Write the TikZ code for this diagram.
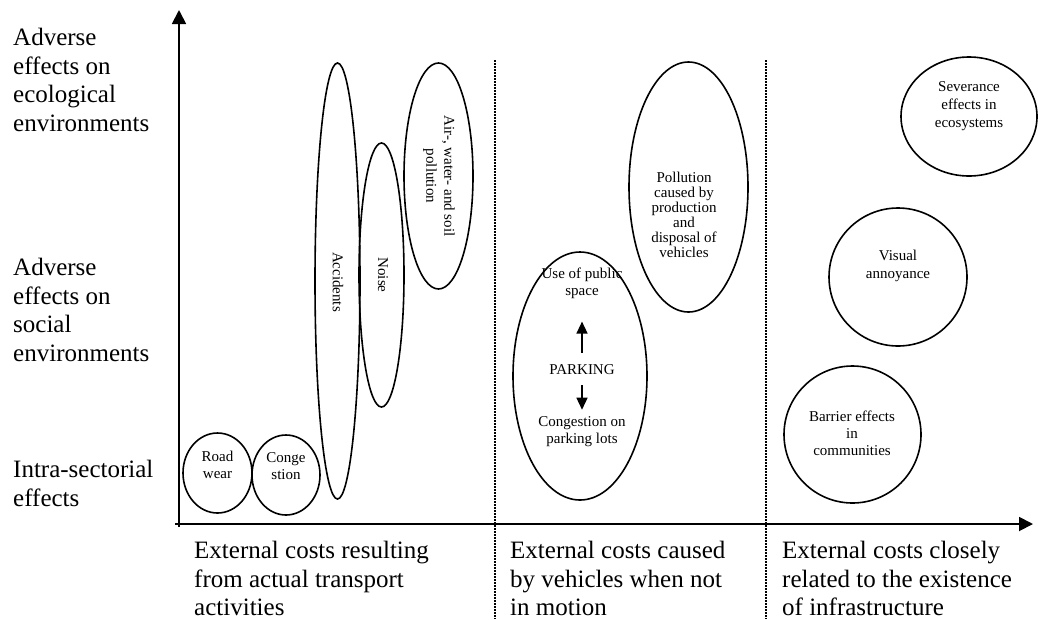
\documentclass[tikz,border=0pt]{standalone}
\usepackage{fontspec}
\setmainfont{Liberation Serif}
\usetikzlibrary{shapes.geometric, arrows.meta}

\begin{document}
\begin{tikzpicture}[x=1pt, y=-1pt,
  axis/.style={line width=1.8pt, -{Triangle[length=14pt,width=14pt]}},
  sepline/.style={line width=1.5pt, dash pattern=on 1.5pt off 1.5pt},
  blob/.style={draw, ellipse, line width=1.6pt, inner sep=0pt},
  small/.style={font=\fontsize{15}{17}\selectfont, align=center, inner sep=0pt},
  big/.style={font=\fontsize{25}{28.5}\selectfont, align=left, inner sep=0pt, anchor=north west},
  ptr/.style={line width=1.4pt, -{Triangle[length=12pt,width=11pt]}}]

\useasboundingbox (0,0) rectangle (1038,619);

% axes
\coordinate (ystart) at (179,527);
\coordinate (ytop)   at (179,10);
\coordinate (xstart) at (175,524);
\coordinate (xend)   at (1033,524);
\draw[axis] (ystart) -- (ytop);
\draw[axis] (xstart) -- (xend);

% column separators
\coordinate (s1t) at (495,60);  \coordinate (s1b) at (495,619);
\coordinate (s2t) at (766,60);  \coordinate (s2b) at (766,619);
\draw[sepline] (s1t) -- (s1b);
\draw[sepline] (s2t) -- (s2b);

% row labels
\node[big] (yEco)   at (13,28)  {Adverse\\effects on\\ecological\\environments};
\node[big] (ySoc)   at (13,258) {Adverse\\effects on\\social\\environments};
\node[big] (yIntra) at (13,460) {Intra-sectorial\\effects};

% column labels
\node[big] (xAct)   at (194,541) {External costs resulting\\from actual transport\\activities};
\node[big] (xStill) at (510,541) {External costs caused\\by vehicles when not\\in motion};
\node[big] (xInfra) at (782,541) {External costs closely\\related to the existence\\of infrastructure};

% cost ellipses
\node[blob, minimum width=69pt,  minimum height=80pt]  (road)  at (217.5,473) {};
\node[blob, minimum width=68pt,  minimum height=80pt]  (cong)  at (286,475)   {};
\node[blob, minimum width=45pt,  minimum height=436pt] (acc)   at (337.5,281) {};
\node[blob, minimum width=45pt,  minimum height=264pt] (noise) at (381.5,275) {};
\node[blob, minimum width=69pt,  minimum height=226pt] (air)   at (438.5,176) {};
\node[blob, minimum width=119pt, minimum height=250pt] (prod)  at (688.5,187) {};
\node[blob, minimum width=134pt, minimum height=248pt] (park)  at (580,376)   {};
\node[blob, minimum width=136pt, minimum height=119pt] (sev)   at (969,116.5) {};
\node[blob, minimum width=138pt, minimum height=138pt] (vis)   at (898,277)   {};
\node[blob, minimum width=137pt, minimum height=137pt] (bar)   at (852.5,434.5) {};

% ellipse texts
\node[small] (tRoad) at (217.5,465) {Road\\wear};
\node[small] (tCong) at (286,466) {Conge\\stion};
\node[small, rotate=-90] (tAcc) at (338,282) {Accidents};
\node[small, rotate=-90] (tNoise) at (383,275) {Noise};
\node[small, rotate=-90, font=\fontsize{15}{18}\selectfont] (tAir) at (439,176) {Air-, water- and soil\\pollution};
\node[small, font=\fontsize{15}{15}\selectfont] (tProd) at (684,215) {Pollution\\caused by\\production\\and\\disposal of\\vehicles};
\node[small] (tUse)  at (582,283) {Use of public\\space};
\node[small] (tPark) at (582,370) {PARKING};
\node[small] (tLots) at (582,432) {Congestion on\\parking lots};
\node[small, font=\fontsize{15}{18}\selectfont] (tSev) at (969,106) {Severance\\effects in\\ecosystems};
\node[small, font=\fontsize{15}{18}\selectfont] (tVis) at (898,266) {Visual\\annoyance};
\node[small] (tBar) at (852,433) {Barrier effects\\in\\communities};

% parking arrows
\draw[ptr, shorten <=12pt, shorten >=23pt] (tPark) -- (tUse);
\draw[ptr, shorten <=10pt, shorten >=7pt]  (tPark) -- (tLots);

\end{tikzpicture}
\end{document}
